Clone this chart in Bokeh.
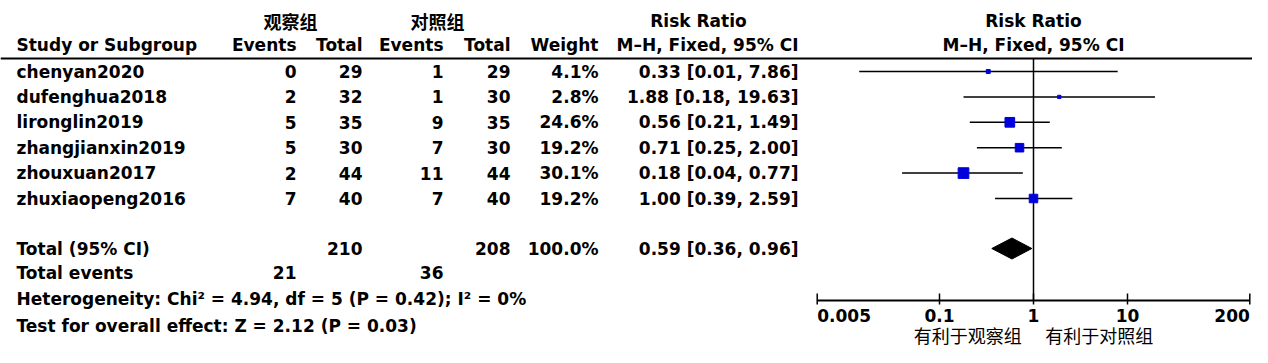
import math
from bokeh.plotting import figure
from bokeh.models import Range1d, LogScale, ColumnDataSource
from bokeh.core.properties import value
from bokeh.embed import file_html
from bokeh.resources import INLINE

# ---------------- data ----------------
studies = ["chenyan2020", "dufenghua2018", "lironglin2019", "zhangjianxin2019",
           "zhouxuan2017", "zhuxiaopeng2016"]
exp_events = [0, 2, 5, 5, 2, 7]
exp_total = [29, 32, 35, 30, 44, 40]
ctrl_events = [1, 1, 9, 7, 11, 7]
ctrl_total = [29, 30, 35, 30, 44, 40]
weights = [4.1, 2.8, 24.6, 19.2, 30.1, 19.2]
rr = [0.33, 1.88, 0.56, 0.71, 0.18, 1.00]
ci_low = [0.014, 0.18, 0.21, 0.25, 0.04, 0.39]
ci_high = [7.86, 19.63, 1.49, 2.00, 0.77, 2.59]

total_exp, total_ctrl = 210, 208
total_exp_events, total_ctrl_events = 21, 36
total_rr, total_low, total_high = 0.59, 0.36, 0.96
heterogeneity = "Heterogeneity: Chi² = 4.94, df = 5 (P = 0.42); I² = 0%"
overall = "Test for overall effect: Z = 2.12 (P = 0.03)"

tick_values = [0.005, 0.1, 1, 10, 200]
tick_labels = ["0.005", "0.1", "1", "10", "200"]
group_exp, group_ctrl = "观察组", "对照组"
favours_exp, favours_ctrl = "有利于观察组", "有利于对照组"

# ---------------- layout ----------------
W, H = 1252, 347
one_px = 1033            # x pixel of RR = 1
decade = 94.0            # px per decade
p = figure(width=W, height=H, output_backend="svg", toolbar_location=None,
           x_range=Range1d(0, W), y_range=Range1d(H, 0), min_border=0,
           x_axis_location=None, y_axis_location=None, outline_line_color=None)
p.grid.visible = False
p.background_fill_color = "white"
p.border_fill_color = "white"
p.extra_x_ranges = {"rr": Range1d(10 ** (-one_px / decade), 10 ** ((W - one_px) / decade))}
p.extra_x_scales = {"rr": LogScale()}

FONT = value("DejaVu Sans")
CJK = value("Noto Sans CJK SC")
FS = "17px"

row0, step = 71.0, 25.4
ys = [row0 + i * step for i in range(len(studies))]
y_total = 248
y_tev = 272
y_het = 298
y_test = 325
y_h1, y_h2 = 20, 44
y_rule = 58
y_axis = 300

X_STUDY, X_EEV, X_ETOT, X_CEV, X_CTOT, X_W, X_CI = 16, 296, 362, 443, 510, 598, 798


def txt(x, y, t, align, font=FONT, size=FS, style="bold", x_range_name="default"):
    src = ColumnDataSource(dict(x=x, y=y, t=t))
    p.text("x", "y", text="t", source=src, text_font=font, text_font_size=size,
           text_font_style=style, text_align=align, text_baseline="middle",
           text_color="black", x_range_name=x_range_name)


# header
txt([290, 437], [y_h1, y_h1], [group_exp, group_ctrl], "center", font=CJK, size="18px")
txt([698], [y_h1], ["Risk Ratio"], "center")
txt([X_STUDY], [y_h2], ["Study or Subgroup"], "left")
txt([X_EEV, X_ETOT, X_CEV, X_CTOT, X_W, X_CI], [y_h2] * 6,
    ["Events", "Total", "Events", "Total", "Weight", "M–H, Fixed, 95% CI"], "right")
txt([1, 1], [y_h1, y_h2], ["Risk Ratio", "M–H, Fixed, 95% CI"], "center", x_range_name="rr")

p.segment(x0=[0], y0=[y_rule], x1=[W], y1=[y_rule], line_color="black", line_width=2)

# study rows
n = len(studies)
txt([X_STUDY] * n, ys, studies, "left")
txt([X_EEV] * n, ys, [str(v) for v in exp_events], "right")
txt([X_ETOT] * n, ys, [str(v) for v in exp_total], "right")
txt([X_CEV] * n, ys, [str(v) for v in ctrl_events], "right")
txt([X_CTOT] * n, ys, [str(v) for v in ctrl_total], "right")
txt([X_W] * n, ys, [f"{w:.1f}%" for w in weights], "right")
txt([X_CI] * n, ys,
    [f"{a:.2f} [{b:.2f}, {c:.2f}]" for a, b, c in zip(rr, ci_low, ci_high)], "right")

# totals
txt([X_STUDY], [y_total], ["Total (95% CI)"], "left")
txt([X_ETOT, X_CTOT, X_W, X_CI], [y_total] * 4,
    [str(total_exp), str(total_ctrl), "100.0%",
     f"{total_rr:.2f} [{total_low:.2f}, {total_high:.2f}]"], "right")
txt([X_STUDY], [y_tev], ["Total events"], "left")
txt([X_EEV, X_CEV], [y_tev, y_tev], [str(total_exp_events), str(total_ctrl_events)], "right")
txt([X_STUDY, X_STUDY], [y_het, y_test], [heterogeneity, overall], "left")

# forest: line of no effect
p.segment(x0=[1], y0=[y_rule], x1=[1], y1=[y_axis], line_color="black",
          line_width=1.5, x_range_name="rr")
# CIs
p.segment(x0=ci_low, y0=ys, x1=ci_high, y1=ys, line_color="black", line_width=1.5,
          x_range_name="rr")
sizes = [1.95 * math.sqrt(w) for w in weights]
p.scatter(x=rr, y=ys, size=sizes, marker="square", fill_color="#0000DD",
          line_color="#0000DD", x_range_name="rr")
# diamond
half = 10.5
p.patch(x=[total_low, total_rr, total_high, total_rr],
        y=[y_total, y_total - half, y_total, y_total + half],
        fill_color="black", line_color="black", x_range_name="rr")

# axis
p.segment(x0=[tick_values[0]], y0=[y_axis], x1=[tick_values[-1]], y1=[y_axis],
          line_color="black", line_width=2, x_range_name="rr")
p.segment(x0=tick_values, y0=[y_axis - 7] * len(tick_values), x1=tick_values,
          y1=[y_axis + 4] * len(tick_values), line_color="black", line_width=1.5,
          x_range_name="rr")
y_tl = 315
txt([tick_values[0]], [y_tl], [tick_labels[0]], "left", x_range_name="rr")
txt(tick_values[1:-1], [y_tl] * 3, tick_labels[1:-1], "center", x_range_name="rr")
txt([tick_values[-1]], [y_tl], [tick_labels[-1]], "right", x_range_name="rr")

# favours labels
txt([0.2, 5], [334, 334], [favours_exp, favours_ctrl], "center", font=CJK,
    size="18px", style="normal", x_range_name="rr")

open("out.html", "w").write(file_html(p, INLINE))
